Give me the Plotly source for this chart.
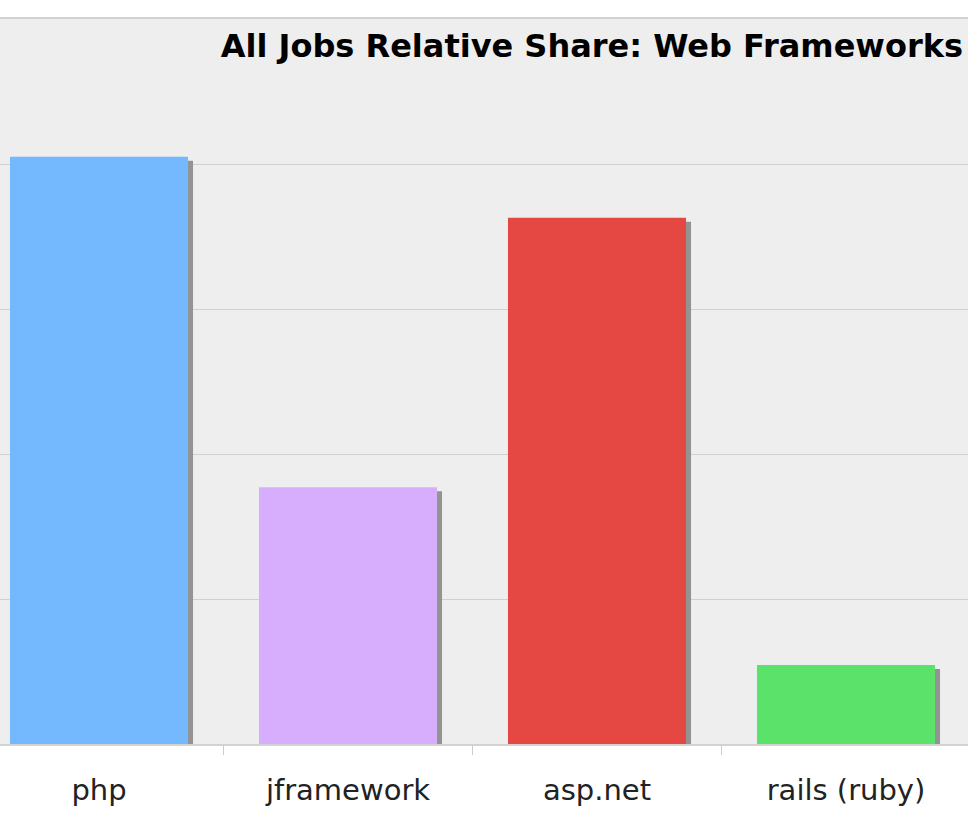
import plotly.graph_objects as go

# Relative share of job listings by web framework
frameworks = ["php", "jframework", "asp.net", "rails (ruby)"]
share = [4.05, 1.77, 3.63, 0.545]
bar_colors = ["#74b8fe", "#d7adfe", "#e54742", "#5be26b"]

BAR_W = 0.715           # bar width in category units
PX_PER_CAT = 249.0      # horizontal pixels per category
PX_PER_UNIT = 145.0     # vertical pixels per y unit
SHADOW_DX = 5 / PX_PER_CAT
SHADOW_DY = 4 / PX_PER_UNIT

fig = go.Figure()

# drop shadow behind each bar
fig.add_trace(go.Bar(
    x=frameworks,
    y=[v - SHADOW_DY for v in share],
    width=BAR_W,
    offset=-BAR_W / 2 + SHADOW_DX,
    marker=dict(color="#939393", line=dict(width=0)),
    hoverinfo="skip",
    showlegend=False,
))

fig.add_trace(go.Bar(
    x=frameworks,
    y=share,
    width=BAR_W,
    offset=-BAR_W / 2,
    marker=dict(color=bar_colors, line=dict(width=0)),
    showlegend=False,
))

W, H = 968, 813
left_px = 99  # pixel centre of the first category
x_lo = -left_px / PX_PER_CAT
x_hi = (W - left_px) / PX_PER_CAT

fig.update_layout(
    width=W,
    height=H,
    margin=dict(l=0, r=0, t=19, b=69),
    paper_bgcolor="white",
    plot_bgcolor="#eeeeee",
    barmode="overlay",
    font=dict(family="DejaVu Sans, Verdana, sans-serif", color="#222222"),
    title=dict(
        text="<b>All Jobs Relative Share: Web Frameworks</b>",
        font=dict(size=32, color="#000000", family="DejaVu Sans, Verdana, sans-serif"),
        xref="paper",
        x=(W - 5) / W,
        xanchor="right",
        yref="container",
        y=1 - 46 / H,
        yanchor="middle",
    ),
    xaxis=dict(
        type="category",
        range=[x_lo, x_hi],
        tickson="boundaries",
        ticks="outside",
        ticklen=9,
        tickwidth=1,
        tickcolor="#cccccc",
        ticklabelstandoff=19,
        showline=True,
        mirror=True,
        linecolor="#d2d2d2",
        linewidth=2,
        showgrid=False,
        tickfont=dict(size=29, color="#222222"),
        fixedrange=True,
    ),
    yaxis=dict(
        range=[0, 5],
        dtick=1,
        showgrid=True,
        gridcolor="#d0d0d0",
        gridwidth=1,
        zeroline=False,
        showticklabels=False,
        ticks="",
        fixedrange=True,
    ),
)

fig.write_html("out.html")
